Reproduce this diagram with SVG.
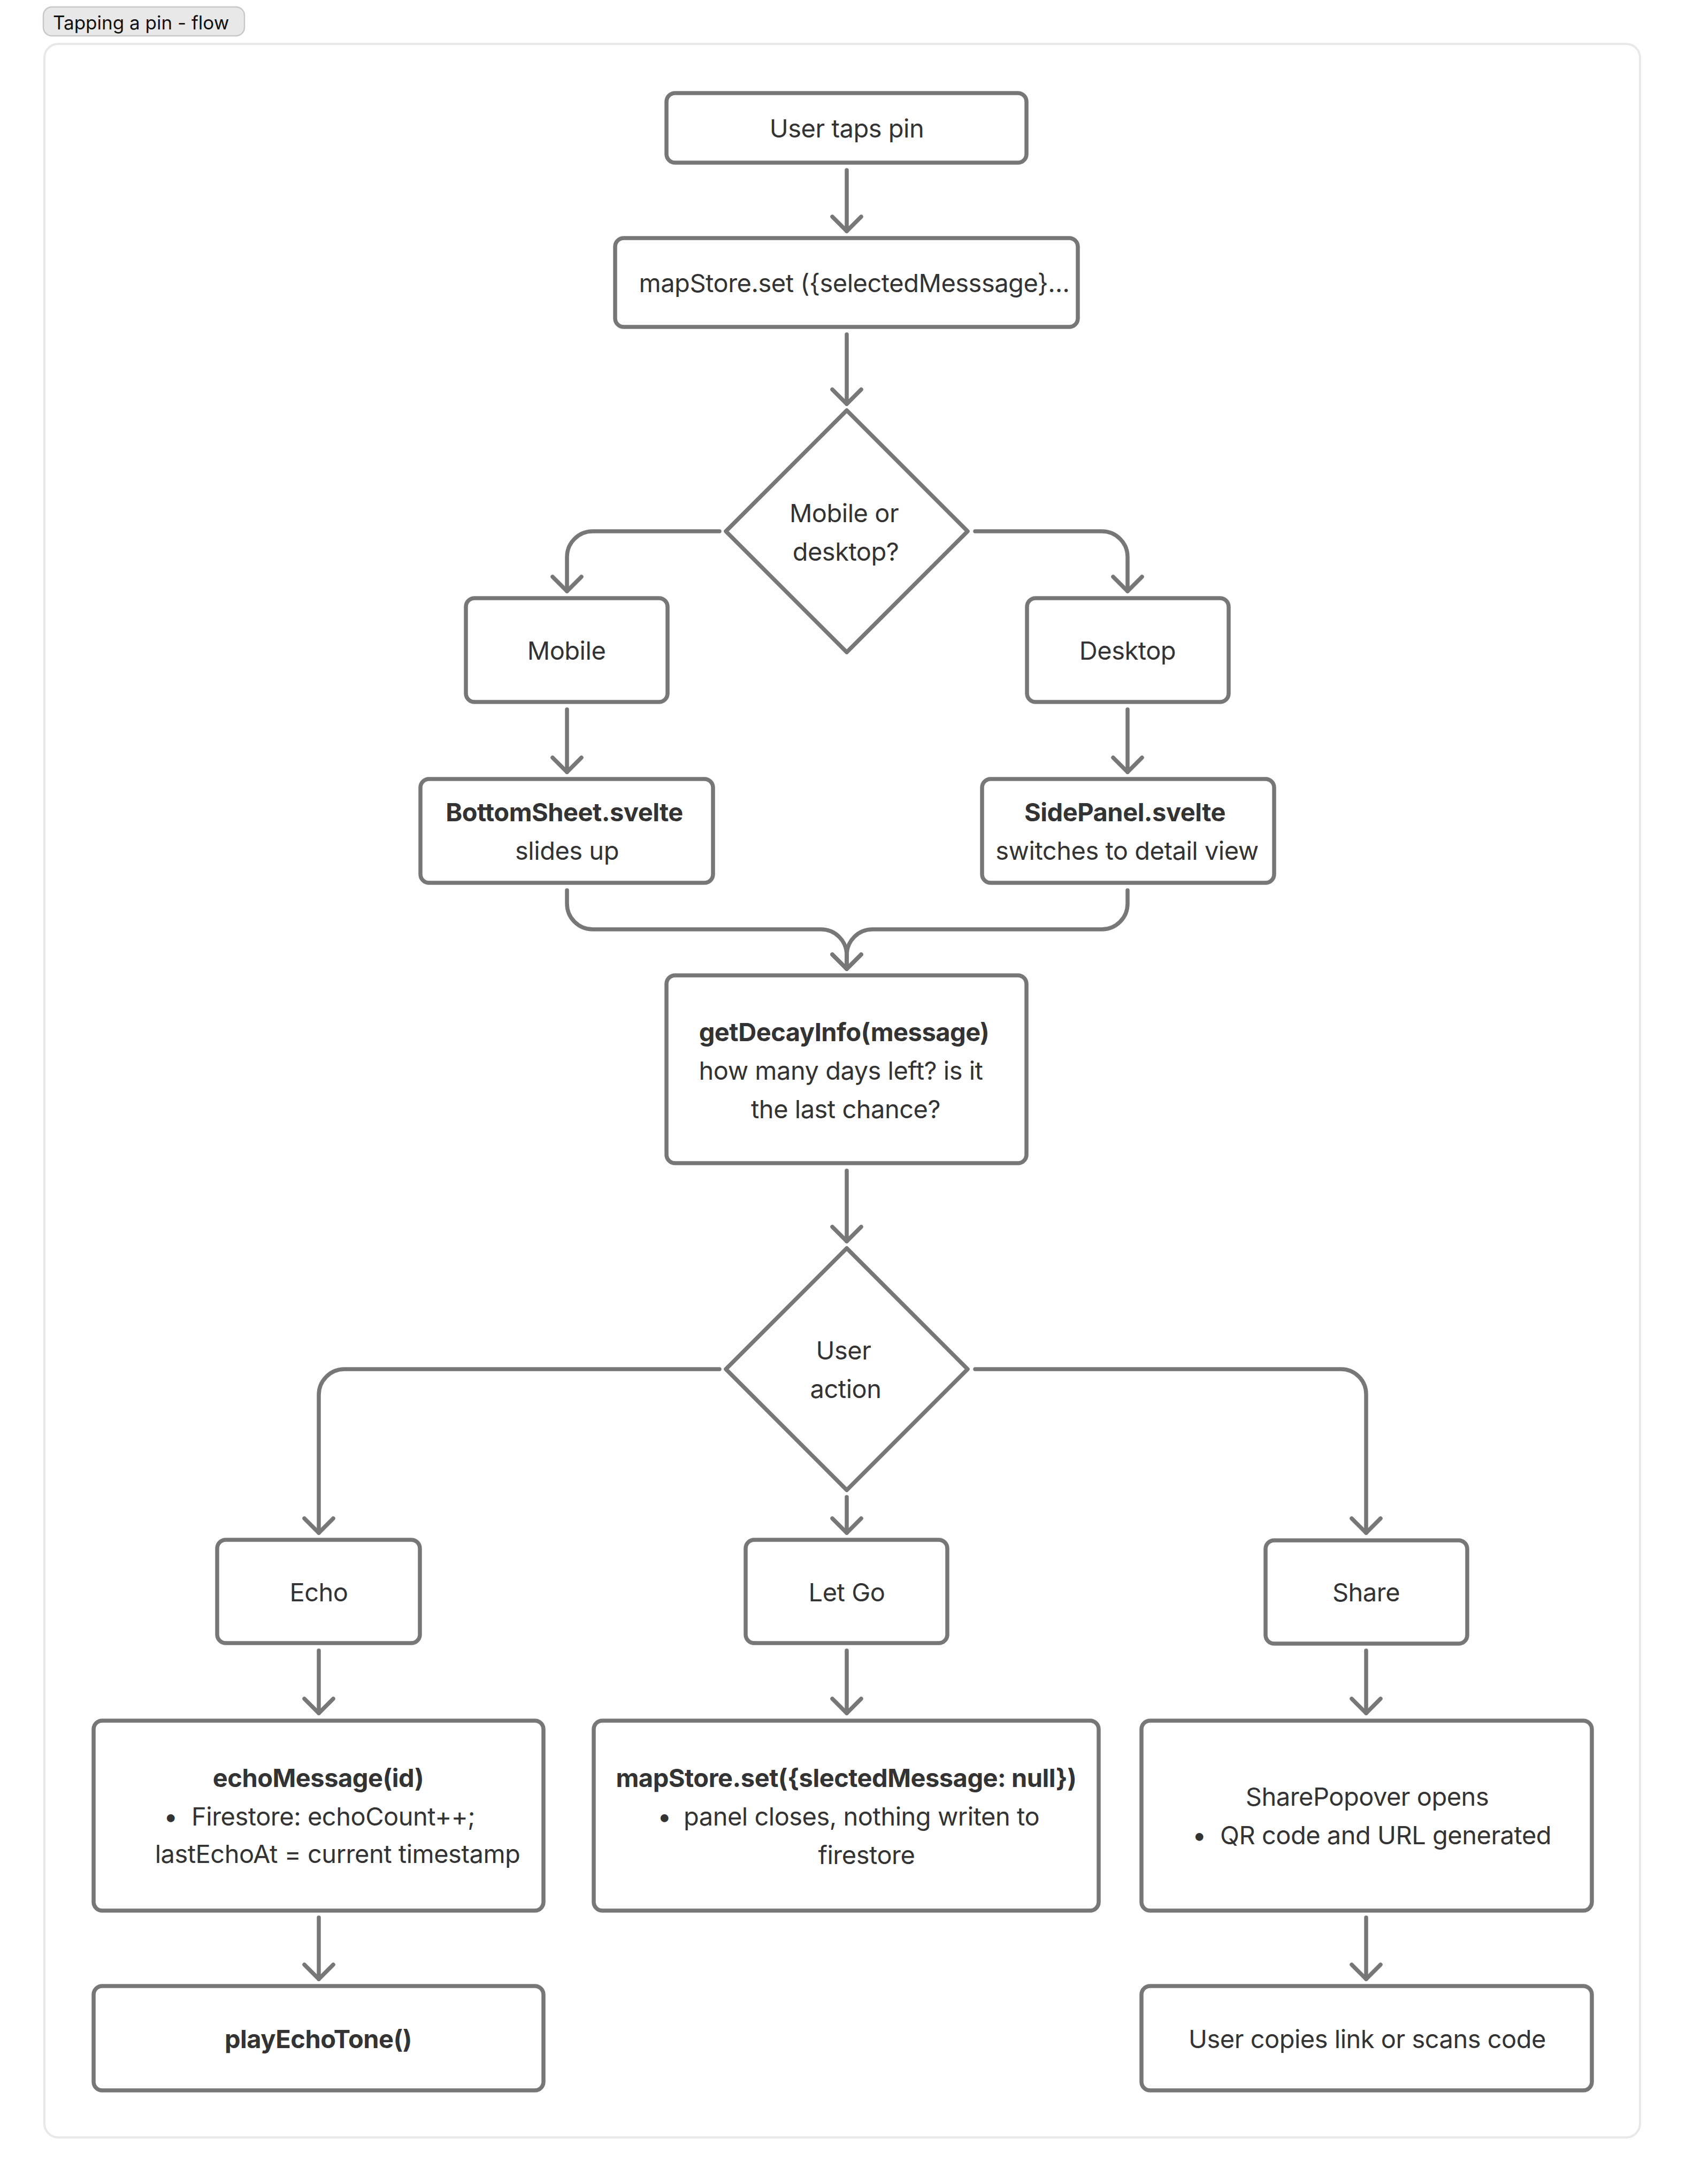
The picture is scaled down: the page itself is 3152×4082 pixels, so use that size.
<svg xmlns="http://www.w3.org/2000/svg" width="3152" height="4082" viewBox="0 0 3152 4082">
<style>
.box{fill:#fff;stroke:#777;stroke-width:7.5;}
.dia{fill:#fff;stroke:#777;stroke-width:7.5;stroke-linejoin:round;}
.con{fill:none;stroke:#777;stroke-width:7.5;stroke-linecap:round;stroke-linejoin:round;}
text{font-family:Inter,"Liberation Sans",sans-serif;font-size:47px;letter-spacing:-0.5px;fill:#333;}
.c{text-anchor:middle;}
.b{font-weight:700;}
</style>
<defs>
<marker id="arr" markerUnits="userSpaceOnUse" markerWidth="80" markerHeight="80" viewBox="-40 -40 80 80" refX="0" refY="0" orient="auto" overflow="visible">
<path d="M -27 -27 L 0 0 L -27 27" fill="none" stroke="#777" stroke-width="7.5" stroke-linecap="round" stroke-linejoin="round"/>
</marker>
</defs>
<rect width="3152" height="4082" fill="#fff"/>
<g id="title">
<rect x="81" y="13" width="376" height="54" rx="16" fill="#e8e8e8" stroke="#c8c8c8" stroke-width="2.5"/>
<text x="99" y="55" style="font-size:35px;letter-spacing:0;fill:#111">Tapping a pin - flow</text>
</g>
<rect id="frame" x="83" y="82" width="2983" height="3913" rx="26" fill="none" stroke="#e8e8e8" stroke-width="4"/>
<g id="connectors">
<path class="con" marker-end="url(#arr)" d="M 1583 318 V 432"/>
<path class="con" marker-end="url(#arr)" d="M 1583 625 V 755"/>
<path class="con" marker-end="url(#arr)" d="M 1345 993 H 1108 A 48 48 0 0 0 1060 1041 V 1105"/>
<path class="con" marker-end="url(#arr)" d="M 1823 993 H 2060 A 48 48 0 0 1 2108 1041 V 1105"/>
<path class="con" marker-end="url(#arr)" d="M 1060 1326 V 1443"/>
<path class="con" marker-end="url(#arr)" d="M 2108 1326 V 1443"/>
<path class="con" marker-end="url(#arr)" d="M 1060 1664 V 1689 A 48 48 0 0 0 1108 1737 H 1535 A 48 48 0 0 1 1583 1785 V 1811"/>
<path class="con" marker-end="url(#arr)" d="M 2108 1664 V 1689 A 48 48 0 0 1 2060 1737 H 1631 A 48 48 0 0 0 1583 1785 V 1811"/>
<path class="con" marker-end="url(#arr)" d="M 1583 2188 V 2320"/>
<path class="con" marker-end="url(#arr)" d="M 1345 2559 H 644 A 48 48 0 0 0 596 2607 V 2865"/>
<path class="con" marker-end="url(#arr)" d="M 1583 2798 V 2865"/>
<path class="con" marker-end="url(#arr)" d="M 1823 2559 H 2507 A 47 47 0 0 1 2554 2606 V 2865"/>
<path class="con" marker-end="url(#arr)" d="M 596 3085 V 3202"/>
<path class="con" marker-end="url(#arr)" d="M 1583 3085 V 3202"/>
<path class="con" marker-end="url(#arr)" d="M 2554 3085 V 3202"/>
<path class="con" marker-end="url(#arr)" d="M 596 3584 V 3699"/>
<path class="con" marker-end="url(#arr)" d="M 2554 3584 V 3699"/>
</g>
<g id="n-user-taps-pin">
<rect class="box" x="1246" y="174" width="673" height="130" rx="16"/>
<text class="c" x="1583" y="257">User taps pin</text>
</g>
<g id="n-mapstore-set">
<rect class="box" x="1150" y="445" width="865" height="166" rx="16"/>
<text class="c" x="1597" y="546">mapStore.set ({selectedMesssage}…</text>
</g>
<g id="n-mobile-or-desktop">
<polygon class="dia" points="1583,767 1809,993 1583,1219 1357,993"/>
<text class="c" x="1578" y="976">Mobile or</text>
<text class="c" x="1581" y="1048">desktop?</text>
</g>
<g id="n-mobile">
<rect class="box" x="871" y="1118" width="377" height="194" rx="16"/>
<text class="c" x="1059" y="1233">Mobile</text>
</g>
<g id="n-desktop">
<rect class="box" x="1920" y="1118" width="377" height="194" rx="16"/>
<text class="c" x="2108" y="1233">Desktop</text>
</g>
<g id="n-bottomsheet">
<rect class="box" x="786" y="1456" width="547" height="194" rx="16"/>
<text class="c b" x="1055" y="1535">BottomSheet.svelte</text>
<text class="c" x="1060" y="1607">slides up</text>
</g>
<g id="n-sidepanel">
<rect class="box" x="1836" y="1456" width="546" height="194" rx="16"/>
<text class="c b" x="2103" y="1535">SidePanel.svelte</text>
<text class="c" x="2107" y="1607">switches to detail view</text>
</g>
<g id="n-getdecayinfo">
<rect class="box" x="1246" y="1823" width="673" height="351" rx="16"/>
<text class="c b" x="1578" y="1946">getDecayInfo(message)</text>
<text class="c" x="1572" y="2018">how many days left? is it</text>
<text class="c" x="1581" y="2090">the last chance?</text>
</g>
<g id="n-user-action">
<polygon class="dia" points="1583,2333 1809,2559 1583,2785 1357,2559"/>
<text class="c" x="1577" y="2541">User</text>
<text class="c" x="1581" y="2613">action</text>
</g>
<g id="n-echo">
<rect class="box" x="406" y="2878" width="379" height="193" rx="16"/>
<text class="c" x="596" y="2993">Echo</text>
</g>
<g id="n-let-go">
<rect class="box" x="1394" y="2878" width="377" height="193" rx="16"/>
<text class="c" x="1583" y="2993">Let Go</text>
</g>
<g id="n-share">
<rect class="box" x="2366" y="2879" width="377" height="193" rx="16"/>
<text class="c" x="2554" y="2993">Share</text>
</g>
<g id="n-echomessage">
<rect class="box" x="175" y="3216" width="841" height="355" rx="16"/>
<text class="c b" x="595" y="3340">echoMessage(id)</text>
<text class="c" x="319" y="3412">•</text>
<text x="358" y="3412">Firestore: echoCount++;</text>
<text class="c" x="631" y="3482">lastEchoAt = current timestamp</text>
</g>
<g id="n-mapstore-null">
<rect class="box" x="1110" y="3216" width="944" height="355" rx="16"/>
<text class="c b" x="1582" y="3340">mapStore.set({slectedMessage: null})</text>
<text class="c" x="1242" y="3412">•</text>
<text x="1278" y="3412">panel closes, nothing writen to</text>
<text class="c" x="1620" y="3484">firestore</text>
</g>
<g id="n-sharepopover">
<rect class="box" x="2134" y="3216" width="842" height="355" rx="16"/>
<text class="c" x="2556" y="3375">SharePopover opens</text>
<text class="c" x="2242" y="3447">•</text>
<text x="2281" y="3447">QR code and URL generated</text>
</g>
<g id="n-playechotone">
<rect class="box" x="175" y="3712" width="841" height="195" rx="16"/>
<text class="c b" x="595" y="3828">playEchoTone()</text>
</g>
<g id="n-user-copies">
<rect class="box" x="2134" y="3712" width="842" height="195" rx="16"/>
<text class="c" x="2556" y="3828">User copies link or scans code</text>
</g>
</svg>
